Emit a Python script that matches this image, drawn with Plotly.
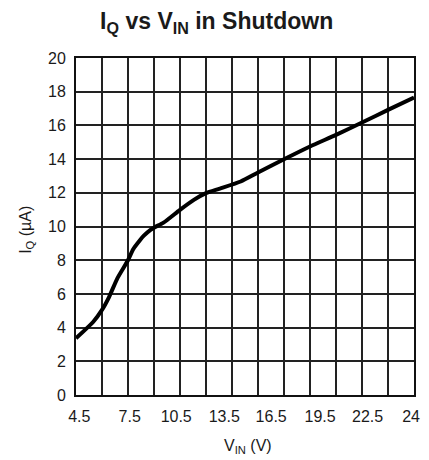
import plotly.graph_objects as go

vin = [4.5, 5.5, 6.0, 6.4, 6.9, 7.5, 7.8, 8.2, 8.4, 8.8, 9.05, 9.55, 10.5, 11.3, 12.0, 12.8, 14.0, 15.0, 16.5, 18.0, 19.5, 21.0, 22.5, 24.0]
iq = [3.37, 4.35, 5.05, 5.8, 6.95, 8.0, 8.65, 9.2, 9.44, 9.8, 9.96, 10.23, 10.99, 11.58, 11.98, 12.25, 12.67, 13.2, 13.99, 14.75, 15.44, 16.17, 16.92, 17.65]

x_grid = [4.5 + 1.5 * i for i in range(14)]
# tick labels as printed in the original (slightly offset from the grid lines)
x_labels = ["4.5", "7.5", "10.5", "13.5", "16.5", "19.5", "22.5", "24"]
x_label_pos = [4.69, 7.60, 10.28, 13.05, 15.76, 18.58, 21.32, 23.83]
y_ticks = [0, 2, 4, 6, 8, 10, 12, 14, 16, 18, 20]

FAM = "Liberation Sans, Arial, sans-serif"
TXT = "#1a1a1a"
fig = go.Figure()
fig.add_trace(go.Scatter(x=vin, y=iq, mode="lines",
                         line=dict(color="black", width=4, shape="spline", smoothing=0.6),
                         showlegend=False, hoverinfo="skip"))
fig.add_trace(go.Scatter(x=[None], y=[None], xaxis="x2", yaxis="y", mode="lines",
                         showlegend=False, hoverinfo="skip"))

fig.update_layout(
    width=429, height=460, autosize=False,
    margin=dict(l=76, r=15, t=58, b=65),
    paper_bgcolor="white", plot_bgcolor="white",
    font=dict(family=FAM, size=16, color=TXT),
    title=dict(text="<b>I<sub>Q</sub> vs V<sub>IN</sub> in Shutdown</b>",
               x=0.505, xanchor="center", xref="container", y=0.955, yanchor="middle",
               font=dict(family=FAM, size=23, color=TXT)),
    annotations=[
        dict(text="V<sub>IN</sub> (V)", xref="paper", yref="paper", x=0.51, y=-0.152,
             xanchor="center", yanchor="middle", showarrow=False, font=dict(family=FAM, size=16, color=TXT)),
        dict(text="I<sub>Q</sub> (µA)", xref="paper", yref="paper", x=-0.145, y=0.49,
             xanchor="center", yanchor="middle", textangle=-90, showarrow=False,
             font=dict(family=FAM, size=16, color=TXT)),
    ],
    xaxis2=dict(overlaying="x", anchor="y", side="bottom", range=[4.5, 24],
                tickvals=x_label_pos, ticktext=x_labels, tickangle=0,
                tickfont=dict(family=FAM, size=16, color=TXT),
                showgrid=False, showline=False, zeroline=False,
                ticks="outside", ticklen=7, tickcolor="rgba(0,0,0,0)", automargin=False),
)
fig.update_xaxes(selector=dict(anchor="y", overlaying=None))
fig.layout.xaxis.update(range=[4.5, 24], tickvals=x_grid, showticklabels=False,
                        showgrid=True, gridcolor="#222", gridwidth=1.5,
                        showline=True, linecolor="#111", linewidth=2, mirror=True,
                        ticks="", zeroline=False, automargin=False)
fig.update_yaxes(range=[0, 20], tickvals=y_ticks,
                 tickfont=dict(family=FAM, size=16, color=TXT),
                 showgrid=True, gridcolor="#222", gridwidth=1.5,
                 showline=True, linecolor="#111", linewidth=2, mirror=True,
                 ticks="outside", ticklen=5, tickcolor="rgba(0,0,0,0)", zeroline=False, automargin=False)

fig.write_html("out.html", config={"displayModeBar": False},
               post_script="document.body.style.margin='0';document.body.style.padding='0';")
